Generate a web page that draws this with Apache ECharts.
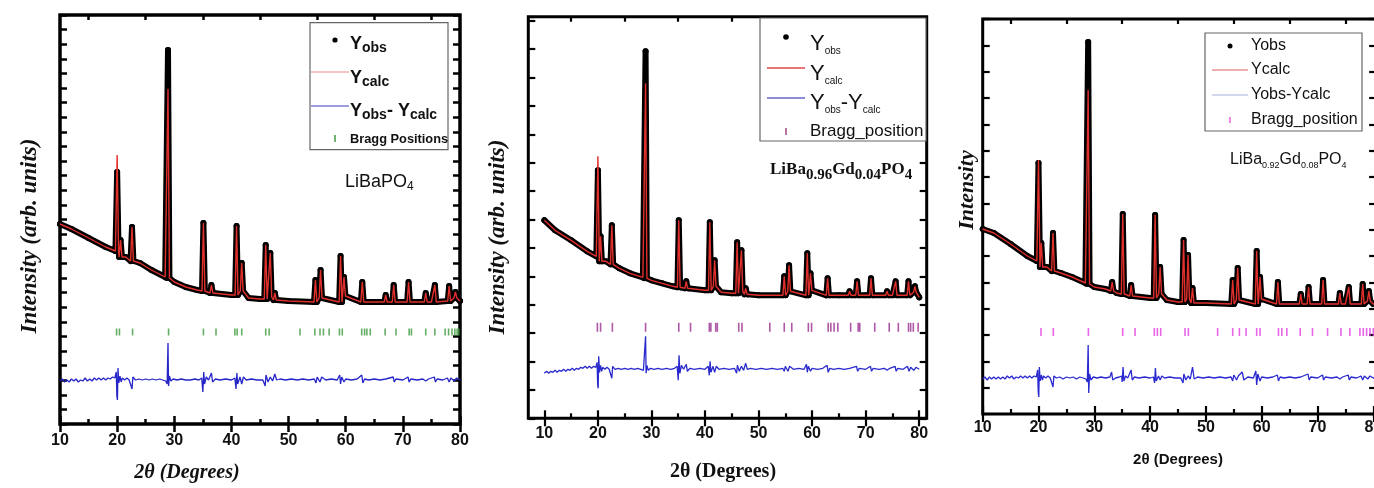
<!DOCTYPE html>
<html><head><meta charset="utf-8">
<script src="https://cdn.jsdelivr.net/npm/echarts@6/dist/echarts.min.js"></script>
<style>html,body{margin:0;padding:0;background:#fff}#c{width:1374px;height:488px}</style>
</head><body><div id="c"></div>
<script>
// ---------- tick labels ----------
const xTickLabels = [10, 20, 30, 40, 50, 60, 70, 80];
const xMinorTicks = [15, 25, 35, 45, 55, 65, 75];

// ---------- Panel 1 : LiBaPO4 (intensity, arb. units) ----------
const bg1 = [[10,200],[12,195],[15,186],[18,177],[19.7,173],[21.5,167],[24,161],[26,154],[28.4,147],[30,142],[32,137],[34,134],[37,131],[40,129],[43,126],[45,125],[48,124],[50,123],[55,122],[60,122],[65,122],[70,122],[75,122],[80,123]];
// [2theta, base, Yobs top, Ycalc top]
const pk1 = [[20.0,173,252,269],[20.6,167,184,184],[22.6,163,197,197],[28.9,146,374,335],[35.1,133,201,201],[36.5,131,139,139],[40.9,129,198,198],[41.8,133,161,161],[46.0,125,179,179],[46.8,127,171,171],[47.6,124,131,131],[54.7,122,144,144],[55.6,126,154,154],[59.1,122,168,168],[59.7,128,147,147],[62.9,122,142,142],[67.0,122,129,129],[68.4,122,139,139],[71.0,122,142,142],[74.0,122,131,131],[75.6,122,139,139],[78.1,123,138,138],[79.2,126,132,132]];
const diff1 = [[10,43],[10.4,45],[10.8,42],[11.2,44],[11.6,42],[12,45],[12.4,43],[12.8,45],[13.2,42],[13.6,44],[14,43],[14.4,46],[14.8,43],[15.2,45],[15.6,43],[16,46],[16.4,44],[16.8,46],[17.2,44],[17.6,46],[18,44],[18.4,46],[18.8,45],[19.2,47],[19.6,46],[19.85,52],[19.95,28],[20.05,24],[20.15,56],[20.3,41],[20.5,48],[20.7,42],[20.9,46],[21.3,44],[21.7,46],[22.1,44],[22.45,45],[22.6,35],[22.75,47],[23.2,44],[23.8,45],[24.4,44],[25,45],[25.6,44],[26.2,45],[26.8,44],[27.4,45],[28,44],[28.5,43],[28.75,40],[28.9,81],[29.0,38],[29.15,48],[29.4,43],[29.8,45],[30.5,44],[31.2,45],[32,44],[32.8,44],[33.6,45],[34.3,44],[34.8,46],[35.0,32],[35.15,52],[35.3,40],[35.6,47],[36,44],[36.5,51],[36.7,42],[37.2,45],[38,44],[39,45],[40,44],[40.6,46],[40.8,35],[40.95,51],[41.1,40],[41.5,47],[41.8,40],[42.1,47],[42.6,44],[43.5,45],[44.5,44],[45.5,44],[45.9,38],[46.05,49],[46.4,42],[46.8,47],[47.2,43],[47.6,50],[47.9,44],[48.5,45],[49.5,44],[50.5,45],[51.5,44],[52.5,45],[53.5,44],[54.5,45],[54.8,41],[55,47],[55.5,42],[55.8,47],[56.5,44],[57.5,45],[58.5,44],[58.95,49],[59.1,40],[59.3,47],[59.7,42],[60,45],[61,44],[62,45],[62.8,49],[63.0,41],[63.3,45],[64,44],[65,45],[66,44],[67,45],[68.3,47],[68.5,42],[68.8,45],[70,44],[70.9,47],[71.1,42],[71.4,45],[72.5,44],[73.5,45],[74,43],[74.5,45],[75.5,47],[75.7,42],[76,45],[77,44],[77.8,46],[78.1,42],[78.4,46],[79,43],[79.4,46],[80,44]];
const bragg1 = [19.9,20.4,22.7,29.0,35.1,37.3,40.6,41.0,41.8,46.0,46.6,52.0,54.6,55.5,56.1,57.1,58.9,59.4,62.8,63.3,63.7,64.3,66.9,68.8,71.1,71.5,74.0,75.6,77.4,78.0,78.6,79.1,79.5,79.8];

// ---------- Panel 2 : LiBa0.96Gd0.04PO4 ----------
const bg2 = [[10,198],[12,188],[15,178],[18,167],[19.7,162],[21.5,157],[24,150],[26,145],[28.4,141],[30,138],[32,135],[34,132],[37,130],[40,128],[43,126],[45,125],[48,124],[50,123],[55,123],[60,123],[65,123],[70,123],[75,123],[80,121]];
const pk2 = [[20.0,162,248,262],[20.5,157,182,182],[22.6,154,193,193],[28.9,140,367,335],[35.1,131,198,198],[36.5,130,137,137],[40.9,128,196,196],[41.8,132,158,158],[46.0,125,176,176],[46.8,127,168,168],[47.6,124,130,130],[54.8,123,142,142],[55.7,127,153,153],[59.1,123,165,165],[59.7,128,145,145],[62.9,123,140,140],[67.0,123,127,127],[68.4,123,137,137],[71.0,123,140,140],[74.0,123,127,127],[75.6,123,137,137],[78.0,123,137,137],[79.2,126,132,132]];
const diff2 = [[10,45],[10.4,47],[10.8,45],[11.2,47],[11.6,46],[12,48],[12.4,46],[12.8,48],[13.2,47],[13.6,49],[14,47],[14.4,49],[14.8,48],[15.2,50],[15.6,48],[16,50],[16.4,49],[16.8,51],[17.2,50],[17.6,52],[18,50],[18.4,52],[18.8,50],[19.2,52],[19.6,51],[19.85,56],[19.95,34],[20.05,30],[20.15,62],[20.3,46],[20.5,53],[20.7,47],[20.9,51],[21.3,49],[21.7,51],[22.1,49],[22.45,50],[22.6,40],[22.75,52],[23.2,49],[23.8,50],[24.4,49],[25,50],[25.6,49],[26.2,50],[26.8,49],[27.4,50],[28,49],[28.5,48],[28.75,46],[28.9,82],[29.0,45],[29.15,53],[29.4,48],[29.8,50],[30.5,49],[31.2,50],[32,49],[32.8,50],[33.6,49],[34.3,50],[34.8,52],[35.0,38],[35.15,63],[35.3,45],[35.6,53],[36,49],[36.5,54],[36.7,47],[37.2,50],[38,49],[39,50],[40,49],[40.6,52],[40.8,43],[40.95,57],[41.1,46],[41.5,52],[41.8,46],[42.1,52],[42.6,49],[43.5,50],[44.5,49],[45.5,50],[45.9,45],[46.05,53],[46.4,47],[46.8,52],[47.2,48],[47.6,55],[47.9,49],[48.5,50],[49.5,49],[50.5,50],[51.5,49],[52.5,50],[53.5,49],[54.5,50],[54.8,47],[55,52],[55.5,47],[55.8,52],[56.5,49],[57.5,50],[58.5,49],[58.95,54],[59.1,46],[59.3,52],[59.7,47],[60,50],[61,49],[62,50],[62.8,53],[63.0,46],[63.3,50],[64,49],[65,50],[66,49],[67,50],[68.3,52],[68.5,47],[68.8,50],[70,49],[70.9,52],[71.1,47],[71.4,50],[72.5,49],[73.5,50],[74,48],[74.5,50],[75.5,52],[75.7,47],[76,50],[77,49],[77.8,52],[78.1,47],[78.4,51],[79,48],[79.4,51],[80,49]];
const bragg2 = [19.9,20.5,22.7,28.9,35.1,37.3,40.8,41.1,42.0,42.3,46.3,46.9,52.1,54.8,56.2,59.3,59.9,63.0,63.5,64.1,64.8,67.2,68.6,68.9,71.7,74.4,76.1,78.0,78.4,78.9,79.8];

// ---------- Panel 3 : LiBa0.92Gd0.08PO4 ----------
const bg3 = [[10,185],[12,181],[15,170],[18,158],[19.7,153],[21.5,147],[24,141],[26,137],[28.4,131],[30,127],[32,125],[34,121],[37,118],[40,116],[43,114],[45,112],[48,111],[50,111],[55,110],[60,110],[65,110],[70,110],[75,110],[80,110],[80.5,110]];
const pk3 = [[20.0,153,251,254],[20.5,147,171,171],[22.6,143,181,181],[28.9,130,372,324],[33.2,123,132,132],[35.1,120,200,200],[36.6,118,129,129],[40.9,116,199,199],[41.8,120,147,147],[46.0,112,174,174],[46.8,115,159,159],[47.6,111,126,126],[54.8,110,134,134],[55.7,114,146,146],[59.1,110,163,163],[59.7,115,137,137],[62.9,110,132,132],[67.0,110,120,120],[68.4,110,127,127],[71.0,110,134,134],[74.0,110,121,121],[75.6,110,127,127],[78.1,110,130,130],[79.2,113,123,123]];
const diff3 = [[10,35],[10.4,37],[10.8,34],[11.2,37],[11.6,35],[12,37],[12.4,35],[12.8,37],[13.2,35],[13.6,37],[14,35],[14.4,38],[14.8,36],[15.2,38],[15.6,35],[16,37],[16.4,36],[16.8,38],[17.2,36],[17.6,38],[18,36],[18.4,38],[18.8,36],[19.2,38],[19.6,37],[19.85,44],[19.95,22],[20.05,17],[20.15,47],[20.3,33],[20.5,39],[20.7,34],[20.9,38],[21.3,36],[21.7,38],[22.1,36],[22.45,37],[22.6,27],[22.75,38],[23.2,36],[23.8,37],[24.4,35],[25,37],[25.6,36],[26.2,37],[26.8,35],[27.4,37],[28,36],[28.5,35],[28.75,32],[28.9,69],[29.0,21],[29.15,40],[29.4,34],[29.8,37],[30.5,36],[31.2,37],[32,36],[32.8,37],[33.1,42],[33.3,34],[33.8,36],[34.5,37],[34.9,38],[35.0,32],[35.15,47],[35.3,33],[35.6,38],[36,36],[36.6,44],[36.8,34],[37.2,37],[38,36],[39,37],[40,36],[40.6,37],[40.8,31],[40.95,46],[41.1,33],[41.5,38],[41.8,34],[42.1,38],[42.6,36],[43.5,37],[44.5,36],[45.5,36],[45.9,31],[46.05,40],[46.4,34],[46.8,38],[47.2,35],[47.6,47],[47.9,35],[48.5,37],[49.5,36],[50.5,37],[51.5,36],[52.5,37],[53.5,36],[54.5,37],[54.8,33],[55,39],[55.5,34],[55.8,38],[56.5,42],[56.8,34],[57.5,37],[58.5,36],[58.95,43],[59.1,29],[59.3,40],[59.7,33],[60,37],[61,36],[62,37],[62.8,39],[63.0,33],[63.3,37],[64,36],[65,37],[66,36],[67,37],[68.3,40],[68.5,34],[68.8,37],[70,36],[70.9,39],[71.1,34],[71.4,37],[72.5,36],[73.5,37],[74,35],[74.5,37],[75.5,39],[75.7,34],[76,37],[77,36],[77.8,38],[78.1,34],[78.4,38],[79,35],[79.4,38],[80,36],[80.5,36]];
const bragg3 = [20.45,22.66,28.94,35.09,37.3,40.76,41.3,41.9,46.26,46.86,52.1,54.8,56.0,57.2,59.1,59.7,63.0,63.6,64.5,66.9,69.1,71.8,74.2,75.8,77.6,78.2,78.8,79.4,80.0];

// ---------- build helpers ----------
const HW = 0.25;
function profile(bg, pk, col) {
  const pts = bg.filter(p => !pk.some(k => Math.abs(p[0] - k[0]) <= HW + 0.05)).map(p => [p[0], p[1]]);
  pk.forEach(k => { pts.push([k[0] - HW, k[1]], [k[0], k[col]], [k[0] + HW, k[1]]); });
  pts.sort((a, b) => a[0] - b[0]);
  return pts;
}

const panels = [
  {grid:{left:60, top:15, width:400, height:409}, xmin:10, xmax:80, ymax:409, yint:409/28, bg:bg1, pk:pk1, diff:diff1, bragg:bragg1, braggLevel:92, braggH:7, braggColor:'#3f9a3f', diffColor:'#2626c8', calcColor:'#e0302c', border:3.5, tickW:2.5, yTickLen:7, labelMargin:9},
  {grid:{left:528.3, top:16.7, width:398.4, height:401.6}, xmin:7, xmax:81.4, ymax:401.6, yint:28.4, bg:bg2, pk:pk2, diff:diff2, bragg:bragg2, braggLevel:91, braggH:9, braggColor:'#9a3090', diffColor:'#2a2acc', calcColor:'#e0302c', border:3, tickW:2.2, yTickLen:7, labelMargin:7},
  {grid:{left:982.7, top:19, width:393.4, height:395}, xmin:10, xmax:80.5, ymax:395, yint:395/15, bg:bg3, pk:pk3, diff:diff3, bragg:bragg3, braggLevel:82, braggH:8, braggColor:'#e040e0', diffColor:'#2a2ad0', calcColor:'#e0302c', border:3, tickW:2.2, yTickLen:7, labelMargin:6}
];

const grids = [], xAxes = [], yAxes = [], series = [];
panels.forEach((p, i) => {
  grids.push(Object.assign({show:true, borderColor:'#000', borderWidth:p.border, backgroundColor:'transparent', containLabel:false, outerBoundsMode:'none'}, p.grid));
  const base = {type:'value', gridIndex:i, min:p.xmin, max:p.xmax, axisLine:{show:false}, splitLine:{show:false}};
  const xi = xAxes.length;
  xAxes.push(Object.assign({}, base, {position:'bottom',
    axisTick:{show:true, inside:true, length:8, lineStyle:{color:'#000', width:p.tickW}, customValues:xTickLabels},
    axisLabel:{show:true, customValues:xTickLabels, margin:p.labelMargin, color:'#111', fontFamily:'Liberation Sans', fontWeight:'bold', fontSize:16}}));
  xAxes.push(Object.assign({}, base, {position:'top',
    axisTick:{show:true, inside:true, length:8, lineStyle:{color:'#000', width:p.tickW}, customValues:xTickLabels},
    axisLabel:{show:false}}));
  xAxes.push(Object.assign({}, base, {position:'bottom',
    axisTick:{show:true, inside:true, length:5, lineStyle:{color:'#000', width:p.tickW}, customValues:xMinorTicks},
    axisLabel:{show:false}}));
  xAxes.push(Object.assign({}, base, {position:'top',
    axisTick:{show:true, inside:true, length:5, lineStyle:{color:'#000', width:p.tickW}, customValues:xMinorTicks},
    axisLabel:{show:false}}));
  const yi = yAxes.length;
  const ybase = {type:'value', gridIndex:i, min:0, max:p.ymax, interval:p.yint, axisLine:{show:false}, splitLine:{show:false}, axisLabel:{show:false},
    axisTick:{show:true, inside:true, length:p.yTickLen, lineStyle:{color:'#000', width:p.tickW}}};
  yAxes.push(Object.assign({}, ybase, {position:'left'}));
  yAxes.push(Object.assign({}, ybase, {position:'right'}));

  series.push({name:'Yobs', type:'line', xAxisIndex:xi, yAxisIndex:yi, data:profile(p.bg, p.pk, 2),
    lineStyle:{color:'#000', width:6, join:'round', cap:'round'}, itemStyle:{color:'#000'},
    symbol:'circle', symbolSize:6, showSymbol:true, showAllSymbol:true, z:2, silent:true});
  series.push({name:'Ycalc', type:'line', xAxisIndex:xi, yAxisIndex:yi, data:profile(p.bg, p.pk, 3),
    lineStyle:{color:p.calcColor, width:1.4}, showSymbol:false, z:3, silent:true});
  series.push({name:'Yobs-Ycalc', type:'line', xAxisIndex:xi, yAxisIndex:yi, data:p.diff,
    lineStyle:{color:p.diffColor, width:1.3}, showSymbol:false, z:3, silent:true});
  series.push({name:'Bragg', type:'scatter', xAxisIndex:xi, yAxisIndex:yi, data:p.bragg.map(v => [v, p.braggLevel]),
    symbol:'rect', symbolSize:[1.6, p.braggH], itemStyle:{color:p.braggColor}, z:3, silent:true});
});

// ---------- text / legend graphics ----------
const SANS = '"Liberation Sans", Arial, sans-serif';
const SERIF = '"Liberation Serif", "Times New Roman", serif';
function txt(x, y, text, font, extra, rot) {
  const o = {type:'text', x:x, y:y, z:100, style:Object.assign({text:text, font:font, fill:'#111', align:'left', verticalAlign:'middle'}, extra || {})};
  if (rot) o.rotation = Math.PI / 2;
  return o;
}
function line(x1, y1, x2, y2, color, w) {
  return {type:'line', z:100, shape:{x1:x1, y1:y1, x2:x2, y2:y2}, style:{stroke:color, lineWidth:w}};
}
function dot(x, y, r) { return {type:'circle', z:100, shape:{cx:x, cy:y, r:r}, style:{fill:'#000'}}; }
function box(x, y, w, h) { return {type:'rect', z:99, shape:{x:x, y:y, width:w, height:h}, style:{fill:'#fff', stroke:'#666', lineWidth:1.2}}; }
function rich(x, y, text, r) { return {type:'text', x:x, y:y, z:100, style:{text:text, rich:r, fill:'#111', align:'left', verticalAlign:'middle'}}; }

const r1 = {y:{fontFamily:SANS, fontWeight:'bold', fontSize:18}, s:{fontFamily:SANS, fontWeight:'bold', fontSize:14, padding:[9,0,0,0]}};
const r2 = {y:{fontFamily:SANS, fontSize:22}, s:{fontFamily:SANS, fontSize:10, padding:[14,0,0,0]}};
const rl1 = {m:{fontFamily:SANS, fontSize:18}, s:{fontFamily:SANS, fontSize:12, padding:[10,0,0,0]}};
const rl2 = {m:{fontFamily:SERIF, fontWeight:'bold', fontSize:17}, s:{fontFamily:SERIF, fontWeight:'bold', fontSize:15, padding:[11,0,0,0]}};
const rl3 = {m:{fontFamily:SANS, fontSize:16}, s:{fontFamily:SANS, fontSize:9, padding:[11,0,0,0]}};

const graphics = [
  // panel 1
  txt(30, 236, 'Intensity (arb. units)', 'italic bold 23px ' + SERIF, {align:'center'}, true),
  txt(187, 473, '2θ (Degrees)', 'italic bold 20px ' + SERIF, {align:'center'}),
  box(310, 22.7, 138, 127),
  dot(335, 40, 2.6),
  rich(350, 44, '{y|Y}{s|obs}', r1),
  line(311, 72, 349, 72, '#f08a8a', 1.2),
  rich(350, 78, '{y|Y}{s|calc}', r1),
  line(311, 106, 349, 106, '#3a3ac0', 1.2),
  rich(350, 111, '{y|Y}{s|obs}{y|- Y}{s|calc}', r1),
  line(335, 135, 335, 142, '#3f9a3f', 1.5),
  txt(350, 139, 'Bragg Positions', 'bold 12.8px ' + SANS),
  rich(345, 182, '{m|LiBaPO}{s|4}', rl1),
  // panel 2
  txt(498, 237, 'Intensity (arb. units)', 'italic bold 23px ' + SERIF, {align:'center'}, true),
  txt(723, 472, '2θ (Degrees)', 'bold 20px ' + SERIF, {align:'center'}),
  box(760, 18, 166, 123),
  dot(786, 37, 2.8),
  rich(810, 44, '{y|Y}{s|obs}', r2),
  line(767, 68, 805, 68, '#e04848', 1.5),
  rich(810, 74, '{y|Y}{s|calc}', r2),
  line(767, 98, 805, 98, '#6464c8', 1.5),
  rich(810, 103, '{y|Y}{s|obs}{y|-Y}{s|calc}', r2),
  line(786, 128, 786, 135, '#a04488', 1.5),
  txt(810, 131, 'Bragg_position', '17px ' + SANS),
  rich(770, 170, '{m|LiBa}{s|0.96}{m|Gd}{s|0.04}{m|PO}{s|4}', rl2),
  // panel 3
  txt(967, 190, 'Intensity', 'italic bold 22px ' + SERIF, {align:'center'}, true),
  txt(1178, 460, '2θ (Degrees)', 'bold 15px ' + SANS, {align:'center'}),
  box(1205, 33, 157, 98),
  dot(1230, 46, 2.5),
  txt(1251, 46, 'Yobs', '16px ' + SANS),
  line(1212, 70, 1248, 70, '#e06060', 1.2),
  txt(1251, 70, 'Ycalc', '16px ' + SANS),
  line(1212, 95, 1248, 95, '#a8b0d8', 1.2),
  txt(1251, 95, 'Yobs-Ycalc', '16px ' + SANS),
  line(1230, 117, 1230, 123, '#e060e0', 1.5),
  txt(1251, 120, 'Bragg_position', '16px ' + SANS),
  rich(1230, 160, '{m|LiBa}{s|0.92}{m|Gd}{s|0.08}{m|PO}{s|4}', rl3)
];

const chart = echarts.init(document.getElementById('c'), null, {renderer:'canvas'});
chart.setOption({
  animation:false,
  backgroundColor:'#fff',
  grid:grids, xAxis:xAxes, yAxis:yAxes, series:series,
  graphic:{elements:graphics}
});
</script>
</body></html>
